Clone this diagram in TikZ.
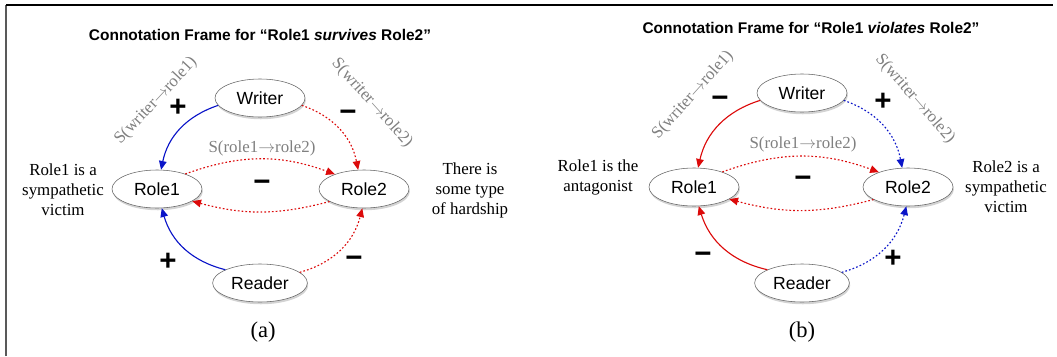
\documentclass[tikz,border=0pt]{standalone}
\usepackage{fontspec}
\setmainfont{Liberation Serif}
\setsansfont{Liberation Sans}
\usetikzlibrary{arrows.meta,shapes.geometric,shadows}
\definecolor{posblue}{RGB}{10,20,200}
\definecolor{negred}{RGB}{220,10,10}
\newcommand{\sent}[2]{S(#1$\rightarrow$#2)}
\tikzset{
  entity/.style={draw=gray!80!black,fill=white,ellipse,minimum width=2.25cm,minimum height=0.95cm,
    drop shadow={opacity=0.35,shadow xshift=0.6pt,shadow yshift=-1.6pt},
    font=\fontsize{12.5}{14}\sffamily},
  note/.style={align=center,font=\fontsize{12}{14.2}\selectfont},
  slabel/.style={text=gray,font=\fontsize{12}{14}\selectfont},
  sign/.style={font=\fontsize{21}{21}\sffamily\bfseries},
  heading/.style={font=\fontsize{11}{13}\sffamily\bfseries},
  caption/.style={font=\fontsize{16}{18}\selectfont},
  link/.style={-{Triangle[length=2.2mm,width=1.9mm]},line width=0.8pt},
  dots/.style={dash pattern=on 1.2pt off 1.5pt}
}

\begin{document}
\begin{tikzpicture}[x=0.025cm,y=-0.025cm]
\useasboundingbox (0,0) rectangle (1057,356);
\draw[gray!70!black,line width=1.5pt] (6,356) -- (6,5);
\draw[black,line width=1pt] (6,5) -- (1053,5);

% (a) survives
\node[heading] (a-title) at (260,35) {Connotation Frame for ``Role1 \textit{survives} Role2''};
\node[entity] (aW) at (260,98) {Writer};
\node[entity] (aR1) at (157,189) {Role1};
\node[entity] (aR2) at (364,189) {Role2};
\node[entity] (aRd) at (260,283) {Reader};
\draw[link,posblue] (aW.190) to[bend right=30] (aR1.78);
\draw[link,dots,negred] (aW.-10) to[bend left=30] (aR2.107);
\draw[link,dots,negred] (aR1.28) to[bend left=20] (aR2.153);
\draw[link,dots,negred] (aR2.200) to[bend left=15] (aR1.-19);
\draw[link,posblue] (aRd.159) to[bend left=30] (aR1.284);
\draw[link,dots,negred] (aRd.15) to[bend right=30] (aR2.265);
\node[slabel,rotate=47] (a-s1) at (156,101) {\sent{writer}{role1}};
\node[slabel,rotate=-48] (a-s2) at (372,103) {\sent{writer}{role2}};
\node[slabel] (a-s12) at (262,148) {\sent{role1}{role2}};
\node[sign] (a-p1) at (178,108) {+};
\node[sign] (a-m1) at (348,116) {−};
\node[sign] (a-m2) at (262,186) {−};
\node[sign] (a-p2) at (168,262) {+};
\node[sign] (a-m3) at (354,262) {−};
\node[note] (a-left) at (63,190) {Role1 is a\\sympathetic\\victim};
\node[note] (a-right) at (470,190) {There is\\some type\\of hardship};
\node[caption] (a-cap) at (263,332) {(a)};

% (b) violates
\node[heading] (b-title) at (811,28) {Connotation Frame for ``Role1 \textit{violates} Role2''};
\node[entity] (bW) at (802,93) {Writer};
\node[entity] (bR1) at (694,187) {Role1};
\node[entity] (bR2) at (908,187) {Role2};
\node[entity] (bRd) at (802,283) {Reader};
\draw[link,negred] (bW.190) to[bend right=30] (bR1.78);
\draw[link,dots,posblue] (bW.-10) to[bend left=30] (bR2.107);
\draw[link,dots,negred] (bR1.28) to[bend left=20] (bR2.153);
\draw[link,dots,negred] (bR2.200) to[bend left=15] (bR1.-19);
\draw[link,negred] (bRd.159) to[bend left=30] (bR1.284);
\draw[link,dots,posblue] (bRd.15) to[bend right=30] (bR2.265);
\node[slabel,rotate=48] (b-s1) at (693,95) {\sent{writer}{role1}};
\node[slabel,rotate=-49] (b-s2) at (915,99) {\sent{writer}{role2}};
\node[slabel] (b-s12) at (803,144) {\sent{role1}{role2}};
\node[sign] (b-m1) at (720,102) {−};
\node[sign] (b-p1) at (883,102) {+};
\node[sign] (b-m2) at (803,182) {−};
\node[sign] (b-m3) at (703,258) {−};
\node[sign] (b-p2) at (893,259) {+};
\node[note] (b-left) at (598,177) {Role1 is the\\antagonist};
\node[note] (b-right) at (1006,187) {Role2 is a\\sympathetic\\victim};
\node[caption] (b-cap) at (802,332) {(b)};
\end{tikzpicture}
\end{document}
